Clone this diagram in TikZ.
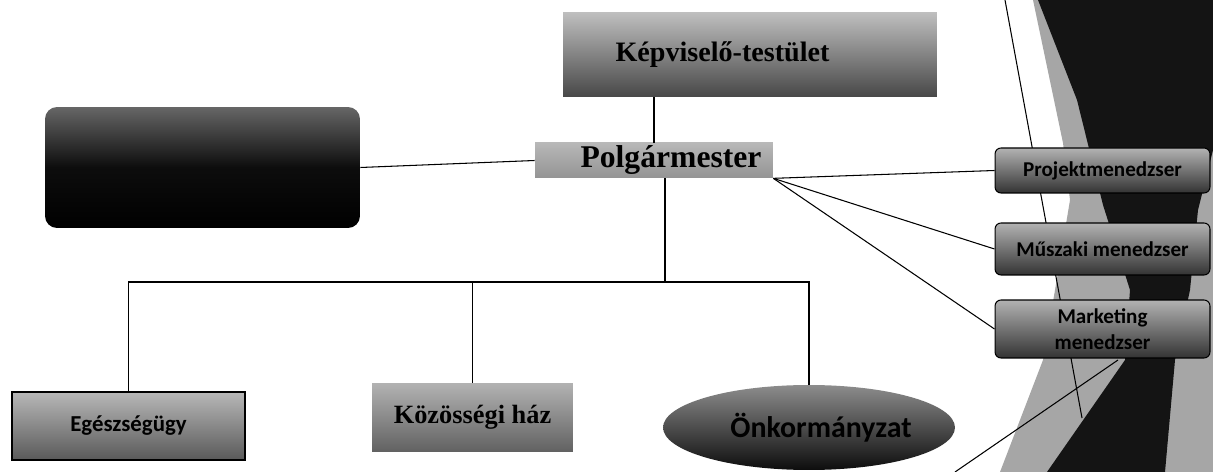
\documentclass[tikz,border=0pt]{standalone}
\usepackage{fontspec}
\setmainfont{Liberation Serif}
\newfontfamily\calibri{Carlito}
\usetikzlibrary{shapes.geometric}
\begin{document}
\begin{tikzpicture}[x=0.02cm,y=-0.02cm,
		serifbox/.style={rectangle,inner sep=0pt,font=\bfseries},
		sansbox/.style={rectangle,inner sep=0pt,font=\calibri\bfseries},
		sidebox/.style={sansbox,rounded corners=0.12cm,draw=black,line width=0.6pt,
			top color=black!30,bottom color=black!80,minimum width=4.3cm,font=\calibri\bfseries\fontsize{12}{14.5}\selectfont},
		link/.style={black,line width=0.6pt}]
		\useasboundingbox (0,0) rectangle (1213,472);
		\fill [black!35] (1033,0) -- (1213,0) -- (1213,472) -- (1000,472) -- (1043,360) -- (1055,290) -- (1070,200) -- (1063,143) -- cycle;
		\fill [black!92] (1038,0) -- (1213,0) -- (1213,150) -- (1198,210) -- (1190,290) -- (1175,360) -- (1165,472) -- (1047,472) -- (1125,360) -- (1130,290) -- (1103,205) -- (1077,100) -- cycle;
		\draw [link] (1005,0) -- (1082,418);
		\draw [link] (1118,360) -- (955,472);
		\node [serifbox,top color=black!25,bottom color=black!72,minimum width=7.48cm,minimum height=1.7cm,font=\bfseries\fontsize{16}{19}\selectfont] (kepv) at (750,54.5) {Képviselő-testület\hspace*{1.1cm}};
		\node [serifbox,top color=black!28,bottom color=black!42,minimum width=4.76cm,minimum height=0.7cm,font=\bfseries\fontsize{18}{21}\selectfont] (polg) at (654,160.5) {\hspace*{0.68cm}Polgármester};
		\node [serifbox,rounded corners=0.24cm,top color=black!60,bottom color=black,middle color=black!95,minimum width=6.3cm,minimum height=2.42cm] (hivatal) at (202.5,167.5) {};
		\node [sansbox,draw=black,line width=0.6pt,top color=black!28,bottom color=black!65,minimum width=4.66cm,minimum height=1.36cm,font=\calibri\bfseries\fontsize{13}{15}\selectfont] (eg) at (128.5,426) {Egészségügy};
		\node [serifbox,top color=black!30,bottom color=black!62,minimum width=4.02cm,minimum height=1.38cm,font=\bfseries\fontsize{15}{18}\selectfont] (koz) at (472.5,417.5) {Közösségi ház};
		\node [ellipse,inner sep=0pt,top color=black!45,bottom color=black!95,minimum width=5.84cm,minimum height=1.7cm,font=\calibri\bfseries\fontsize{17}{20}\selectfont] (onk) at (809,427.5) {\hspace*{0.48cm}Önkormányzat};
		\node [sidebox,minimum height=0.9cm] (proj) at (1102.5,170.5) {Projektmenedzser};
		\node [sidebox,minimum height=1.04cm] (musz) at (1102.5,249) {Műszaki menedzser};
		\node [sidebox,minimum height=1.16cm,align=center] (mark) at (1102.5,329) {Marketing\\menedzser};
		\coordinate (bus) at (665,282);
		\draw [link] (polg.north) -- (polg.north |- kepv.south);
		\draw [link] (hivatal.east) -- (polg.west);
		\draw [link] (bus |- polg.south) -- (bus);
		\draw [link] (eg.north) |- (bus) -| (onk.north);
		\draw [link] (koz.north) -- (koz.north |- bus);
		\draw [link] (polg.south east) -- (proj.west);
		\draw [link] (polg.south east) -- (musz.west);
		\draw [link] (polg.south east) -- (mark.west);
	\end{tikzpicture}
\end{document}
